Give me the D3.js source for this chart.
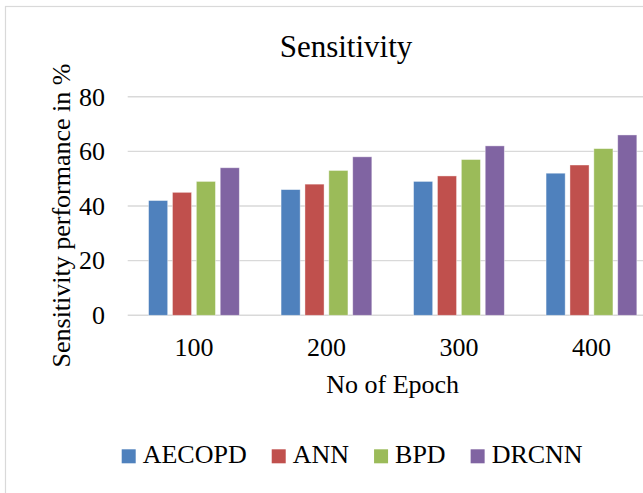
<!DOCTYPE html>
<html>
<head>
<meta charset="utf-8">
<script src="https://cdn.jsdelivr.net/npm/d3@7"></script>
<style>
  html, body { margin: 0; padding: 0; background: #fff; }
  svg { display: block; }
  svg text { font-family: "Liberation Serif", "Times New Roman", "DejaVu Serif", serif !important; fill: #000; }
</style>
</head>
<body>
<svg id="chart" width="643" height="493"></svg>
<script>
const categories = ["100", "200", "300", "400"];
const seriesNames = ["AECOPD", "ANN", "BPD", "DRCNN"];
const aecopd = [42, 46, 49, 52];
const ann = [45, 48, 51, 55];
const bpd = [49, 53, 57, 61];
const drcnn = [54, 58, 62, 66];
const seriesColors = ["#4F81BD", "#C0504D", "#9BBB59", "#8064A2"];
const yTicks = [0, 20, 40, 60, 80];
const chartTitle = "Sensitivity";
const xTitle = "No of Epoch";
const yTitle = "Sensitivity performance in %";

const FONT = '"Liberation Serif", "Times New Roman", serif';
const seriesValues = [aecopd, ann, bpd, drcnn];
const rows = categories.map((c, i) => ({
  cat: c,
  vals: seriesNames.map((s, j) => ({ series: s, value: seriesValues[j][i], color: seriesColors[j] }))
}));

const svg = d3.select("#chart").attr("font-family", FONT);

// chart area border (cut off at right/bottom like reference)
svg.append("rect")
  .attr("x", 5.5).attr("y", 6.5)
  .attr("width", 700).attr("height", 520)
  .attr("fill", "none").attr("stroke", "#d9d9d9").attr("stroke-width", 1.2);

const plotLeft = 127.7, plotRight = 657.7, plotTop = 96.7, plotBottom = 315.3;

const x = d3.scaleBand().domain(categories).range([plotLeft, plotRight])
  .paddingInner(0.315).paddingOuter(0.1575);
const xi = d3.scaleBand().domain(seriesNames).range([0, x.bandwidth()]).paddingInner(0.2);
const y = d3.scaleLinear().domain([0, 80]).range([plotBottom, plotTop]);

// gridlines
svg.append("g").selectAll("line").data(yTicks).join("line")
  .attr("x1", plotLeft).attr("x2", plotRight)
  .attr("y1", d => y(d)).attr("y2", d => y(d))
  .attr("stroke", "#d9d9d9").attr("stroke-width", 1.4);

// bars
const groups = svg.append("g").selectAll("g").data(rows).join("g")
  .attr("transform", d => `translate(${x(d.cat)},0)`);
groups.selectAll("rect").data(d => d.vals).join("rect")
  .attr("x", d => xi(d.series))
  .attr("width", xi.bandwidth())
  .attr("y", d => y(d.value))
  .attr("height", d => y(0) - y(d.value))
  .attr("fill", d => d.color)
  .attr("stroke", "#ffffff").attr("stroke-opacity", 0.5).attr("stroke-width", 0.8);

// y axis labels
const yAxis = svg.append("g").attr("transform", `translate(${plotLeft},0)`)
  .call(d3.axisLeft(y).tickValues(yTicks).tickSize(0).tickPadding(22.7).tickFormat(d3.format("d")))
  .attr("font-family", FONT).attr("font-size", 26);
yAxis.select(".domain").remove();
yAxis.selectAll("text").attr("fill", "#000");

// x axis labels
const xAxis = svg.append("g").attr("transform", `translate(0,${plotBottom})`)
  .call(d3.axisBottom(x).tickSize(0).tickPadding(22.2))
  .attr("font-family", FONT).attr("font-size", 26);
xAxis.select(".domain").remove();
xAxis.selectAll("text").attr("fill", "#000");

// titles
svg.append("text").attr("x", 346).attr("y", 56.7).attr("text-anchor", "middle")
  .attr("font-size", 31).text(chartTitle);
svg.append("text").attr("x", (plotLeft + plotRight) / 2).attr("y", 393).attr("text-anchor", "middle")
  .attr("font-size", 26).text(xTitle);
svg.append("text").attr("transform", "translate(70,215.5) rotate(-90)").attr("text-anchor", "middle")
  .attr("font-size", 26).text(yTitle);

// legend
const legend = svg.append("g").attr("font-size", 26);
let lx = 121.7;
seriesNames.forEach((s, j) => {
  legend.append("rect").attr("x", lx).attr("y", 449.3).attr("width", 14).attr("height", 14).attr("fill", seriesColors[j]);
  const t = legend.append("text").attr("x", lx + 21).attr("y", 463.3).text(s);
  lx += 21 + t.node().getComputedTextLength() + 25;
});
</script>
</body>
</html>
